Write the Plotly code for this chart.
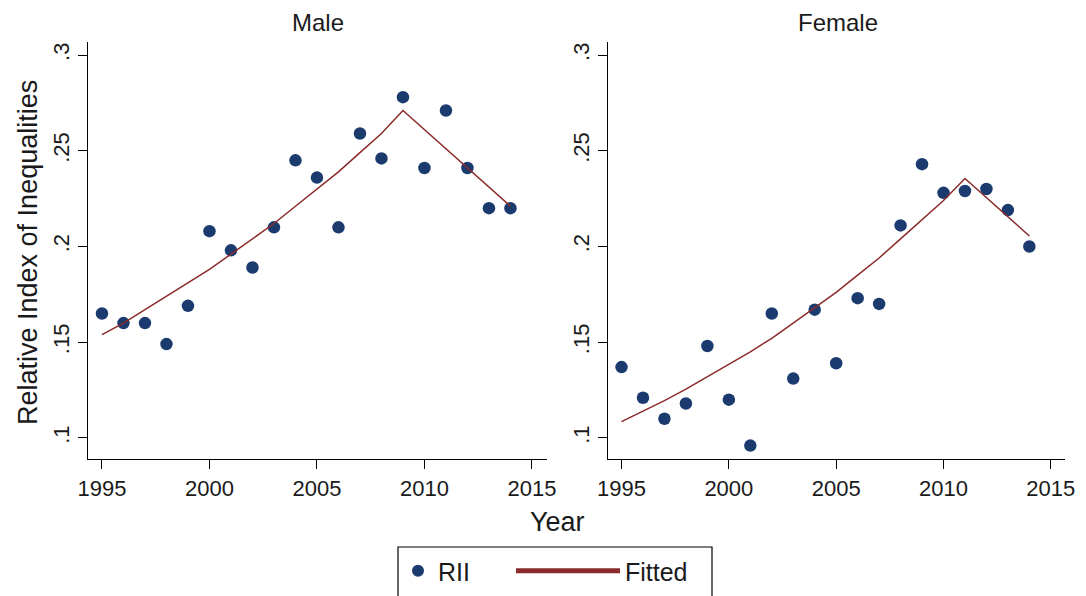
import plotly.graph_objects as go

years = list(range(1995, 2015))

male_rii = [0.165, 0.160, 0.160, 0.149, 0.169, 0.208, 0.198, 0.189, 0.210, 0.245,
            0.236, 0.210, 0.259, 0.246, 0.278, 0.241, 0.271, 0.241, 0.220, 0.220]
male_fit = [0.154, 0.160, 0.167, 0.174, 0.181, 0.188, 0.196, 0.204, 0.212, 0.221,
            0.230, 0.239, 0.249, 0.259, 0.271, 0.261, 0.251, 0.241, 0.231, 0.221]

female_rii = [0.137, 0.121, 0.110, 0.118, 0.148, 0.120, 0.096, 0.165, 0.131, 0.167,
              0.139, 0.173, 0.170, 0.211, 0.243, 0.228, 0.229, 0.230, 0.219, 0.200]
female_fit = [0.1085, 0.114, 0.1195, 0.1255, 0.132, 0.1385, 0.145, 0.152, 0.160, 0.168,
              0.176, 0.185, 0.194, 0.204, 0.214, 0.224, 0.2355, 0.2255, 0.2155, 0.2055]

panel_titles = ["Male", "Female"]
x_ticks = [1995, 2000, 2005, 2010, 2015]
y_ticks = [0.1, 0.15, 0.2, 0.25, 0.3]
y_tick_text = [".1", ".15", ".2", ".25", ".3"]

W, H = 1086, 596
FONT = "Liberation Sans, Arial, sans-serif"
DOT = "#1b3b6f"
LINE = "#8b2a2a"
TXT = "#1a1a1a"

fig = go.Figure()

panels = [(male_rii, male_fit, "x", "y"), (female_rii, female_fit, "x2", "y2")]
for i, (rii, fit, xa, ya) in enumerate(panels):
    fig.add_trace(go.Scatter(
        x=years, y=rii, mode="markers", name="RII", xaxis=xa, yaxis=ya,
        marker=dict(color=DOT, size=12.5, line=dict(width=0)),
        showlegend=(i == 0), legendgroup="rii", legend="legend"))
    fig.add_trace(go.Scatter(
        x=years, y=fit, mode="lines", name="Fitted", xaxis=xa, yaxis=ya,
        line=dict(color=LINE, width=1.5),
        showlegend=(i == 0), legendgroup="fit", legend="legend2"))

y_top = 1 - 42 / H
y_bot = 1 - 459 / H

axis_common = dict(
    showline=True, linecolor="black", linewidth=1.2, mirror=False,
    ticks="outside", ticklen=9, tickwidth=1.2, tickcolor="black",
    showgrid=False, zeroline=False, automargin=False,
    tickfont=dict(family=FONT, size=22, color=TXT),
)

fig.update_layout(
    xaxis=dict(domain=[88 / W, 547 / W], range=[1994.35, 2015.7],
               tickvals=x_ticks, anchor="y", **axis_common),
    yaxis=dict(domain=[y_bot, y_top], range=[0.089, 0.3068],
               tickvals=y_ticks, ticktext=y_tick_text, tickangle=-90,
               anchor="x", **axis_common),
    xaxis2=dict(domain=[608 / W, 1065 / W], range=[1994.37, 2015.66],
                tickvals=x_ticks, anchor="y2", **axis_common),
    yaxis2=dict(domain=[y_bot, y_top], range=[0.089, 0.3068],
                tickvals=y_ticks, ticktext=y_tick_text, tickangle=-90,
                anchor="x2", **axis_common),
)

def ann(text, px, py, size, angle=0):
    return dict(text=text, x=px / W, y=1 - py / H, xref="paper", yref="paper",
                xanchor="center", yanchor="middle", showarrow=False,
                textangle=angle, font=dict(family=FONT, size=size, color=TXT))

annotations = [
    ann(panel_titles[0], 318, 22, 24),
    ann(panel_titles[1], 838, 22, 24),
    ann("Relative Index of Inequalities", 28, 253, 27, -90),
    ann("Year", 557, 522, 27),
]

# legend frame
shapes = [dict(type="rect", xref="paper", yref="paper",
               x0=398 / W, x1=712 / W, y0=-0.05, y1=1 - 547 / H,
               line=dict(color="black", width=1.2), fillcolor="white", layer="below")]

leg_font = dict(family=FONT, size=25, color=TXT)
fig.update_layout(
    template="none",
    width=W, height=H,
    margin=dict(l=0, r=0, t=0, b=0, autoexpand=False),
    paper_bgcolor="white", plot_bgcolor="white",
    font=dict(family=FONT, color=TXT),
    annotations=annotations,
    shapes=shapes,
    legend=dict(orientation="h", x=398 / W, xanchor="left", y=1 - 548 / H,
                yanchor="top", borderwidth=0, bgcolor="rgba(0,0,0,0)",
                font=leg_font, itemwidth=30, entrywidth=0, itemsizing="constant"),
    legend2=dict(orientation="h", x=511 / W, xanchor="left", y=1 - 548 / H,
                 yanchor="top", borderwidth=0, bgcolor="rgba(0,0,0,0)",
                 font=leg_font, itemwidth=104, entrywidth=0, itemsizing="constant"),
)

fig.write_html("out.html", config={"displayModeBar": False},
               post_script="document.body.style.margin='0';document.body.style.padding='0';")
